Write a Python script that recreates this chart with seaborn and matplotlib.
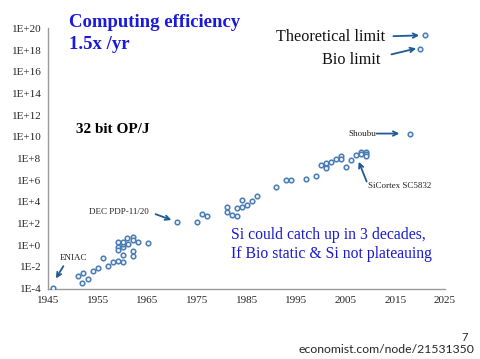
import numpy as np
import pandas as pd
import matplotlib
matplotlib.use("Agg")
import matplotlib.pyplot as plt
import seaborn as sns

# ---- data (log10 of 32-bit OP/J) ----
years = [1946, 1951, 1952, 1951.8, 1953, 1954, 1955, 1956, 1957, 1958, 1959, 1959, 1959, 1959,
         1960, 1960, 1960, 1960, 1960, 1960.8, 1961, 1962, 1962, 1962, 1962, 1963, 1965,
         1971, 1975, 1976, 1977, 1981, 1981, 1982, 1983, 1983, 1984, 1984, 1985, 1986, 1987,
         1991, 1993, 1994, 1997, 1999, 2000, 2001, 2001, 2001, 2002, 2003, 2004, 2004, 2005,
         2006, 2007, 2008, 2008, 2009, 2009, 2009, 2018, 2020, 2021]
log_opj = [-3.97, -2.86, -2.58, -3.47, -3.11, -2.37, -2.12, -1.14, -1.91, -1.54, -1.42, 0.33, -0.13, -0.43,
           -1.51, -0.92, -0.13, 0.12, 0.33, 0.67, 0.12, -0.49, -0.96, 0.74, 0.46, 0.33, 0.18,
           2.12, 2.15, 2.86, 2.73, 3.54, 3.10, 2.77, 3.39, 2.73, 4.15, 3.53, 3.69, 4.06, 4.54,
           5.35, 5.99, 5.99, 6.08, 6.39, 7.40, 7.34, 7.15, 7.56, 7.68, 7.93, 8.23, 7.98, 7.24,
           7.86, 8.32, 8.63, 8.41, 8.63, 8.41, 8.20, 10.23, 18.09, 19.35]

x_ticks = [1945, 1955, 1965, 1975, 1985, 1995, 2005, 2015, 2025]
y_tick_exps = [-4, -2, 0, 2, 4, 6, 8, 10, 12, 14, 16, 18, 20]
y_tick_labels = ["1E-4", "1E-2", "1E+0", "1E+2", "1E+4", "1E+6", "1E+8", "1E+10",
                 "1E+12", "1E+14", "1E+16", "1E+18", "1E+20"]

df = pd.DataFrame({"year": years, "opj": [10.0 ** e for e in log_opj]})

sns.set_theme(style="white")
plt.rcParams["font.family"] = ["Liberation Serif", "DejaVu Serif"]

fig = plt.figure(figsize=(4.8, 3.59), dpi=100)
fig.patch.set_facecolor("white")
ax = fig.add_axes([0.101, 0.196, 0.826, 0.725])

ax.set_yscale("log")
sns.scatterplot(data=df, x="year", y="opj", ax=ax, marker="o", s=11,
                facecolor="#eef3f9", edgecolor="#4a7db5", linewidth=1.1, zorder=3, legend=False)

ax.set_xlim(1945, 2025)
ax.set_ylim(1e-4, 1e20)
ax.set_xticks(x_ticks)
ax.set_xticklabels([str(t) for t in x_ticks])
ax.set_yticks([10.0 ** e for e in y_tick_exps])
ax.set_yticklabels(y_tick_labels)
ax.minorticks_off()
ax.set_xlabel("")
ax.set_ylabel("")
for s in ["top", "right"]:
    ax.spines[s].set_visible(False)
for s in ["left", "bottom"]:
    ax.spines[s].set_color("#9a9a9a")
    ax.spines[s].set_linewidth(1.0)
ax.tick_params(axis="y", direction="out", length=3, color="#9a9a9a", labelsize=8, pad=2)
ax.tick_params(axis="x", direction="in", length=3, color="#9a9a9a", labelsize=8, pad=5)
ax.set_facecolor("white")

# ---- text ----
fig.text(0.143, 0.96, "Computing efficiency\n1.5x /yr", color="#1a1adc", fontsize=13.5,
         fontweight="bold", va="top", ha="left", linespacing=1.35)
fig.text(0.158, 0.638, "32 bit OP/J", color="black", fontsize=11, fontweight="bold",
         va="center", ha="left")
fig.text(0.803, 0.898, "Theoretical limit", fontsize=11.7, ha="right", va="center", color="#111111")
fig.text(0.793, 0.832, "Bio limit", fontsize=11.7, ha="right", va="center", color="#111111")
fig.text(0.482, 0.32, "Si could catch up in 3 decades,\nIf Bio static & Si not plateauing",
         color="#1a1acc", fontsize=11.3, ha="left", va="center", linespacing=1.25)
fig.text(0.975, 0.06, "7", fontsize=8, ha="right", va="center", family=["Lato", "DejaVu Sans"])
fig.text(0.988, 0.027, "economist.com/node/21531350", fontsize=8.8, ha="right", va="center",
         family=["Lato", "DejaVu Sans"])

small = dict(fontsize=6.5, color="#222222")
ax.text(2005.6, 10 ** 10.3, "Shoubu", ha="left", va="center", **small)
ax.text(2009.4, 10 ** 5.5, "SiCortex SC5832", ha="left", va="center", **small)
ax.text(1959.3, 10 ** 3.07, "DEC PDP-11/20", ha="center", va="center", **small)
ax.text(1950.0, 10 ** -1.17, "ENIAC", ha="center", va="center", **small)

arrow_color = "#1f5a96"
def arr(x0, y0, x1, y1):
    ax.annotate("", xy=(x1, 10 ** y1), xytext=(x0, 10 ** y0),
                arrowprops=dict(arrowstyle="->", color=arrow_color, lw=1.3,
                                mutation_scale=8, shrinkA=0, shrinkB=0))

arr(2014.6, 19.28, 2019.8, 19.35)
arr(2014.2, 17.6, 2019.2, 18.15)
arr(2011.2, 10.3, 2015.8, 10.3)
arr(2009.2, 5.88, 2007.6, 7.7)
arr(1966.6, 2.87, 1969.8, 2.33)
arr(1948.0, -1.93, 1946.5, -3.06)

fig.savefig("out.png", dpi=100, facecolor="white")
